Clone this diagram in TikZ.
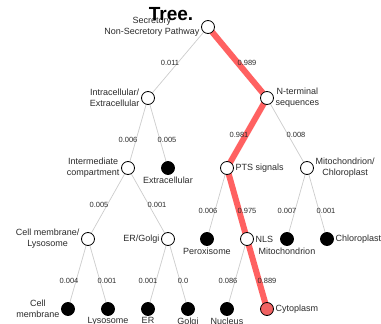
\documentclass[tikz,border=0pt]{standalone}
\usepackage{fontspec}
\setmainfont{Liberation Sans}
\usetikzlibrary{positioning,backgrounds}
\definecolor{pathred}{HTML}{FF6161}
\definecolor{leafred}{HTML}{F06262}
\definecolor{linkgray}{HTML}{CCCCCC}
\definecolor{textgray}{HTML}{2A2A2A}

\begin{document}
\begin{tikzpicture}[x=1pt, y=-1pt,
  inner/.style={circle, draw=black, fill=white, line width=0.8pt, minimum size=13pt, inner sep=0pt},
  leaf/.style={inner, fill=black},
  sink/.style={leaf, label distance=3.5pt},
  hit/.style={inner, fill=leafred},
  lbl/.style={font=\fontsize{9}{11}\selectfont, text=textgray, align=center, inner sep=1.5pt},
  prob/.style={font=\fontsize{7.5}{9}\selectfont, text=textgray, inner sep=0pt},
  link/.style={draw=linkgray, line width=0.7pt},
  best/.style={draw=pathred, line width=6pt}]
  \clip (0,0) rectangle (381,324);
  % inner nodes and leaves
  \node[inner, label={[lbl]left:{Secretory\\Non-Secretory Pathway}}] (root) at (208,27) {};
  \node[inner, label={[lbl]left:{Intracellular/\\Extracellular}}] (intra) at (148,98) {};
  \node[inner, label={[lbl]right:{N-terminal\\sequences}}] (nterm) at (267,98) {};
  \node[inner, label={[lbl]left:{Intermediate\\compartment}}] (interm) at (128,168) {};
  \node[sink, label={[lbl]below:Extracellular}] (extra) at (168,168) {};
  \node[inner, label={[lbl]right:PTS signals}] (pts) at (227,168) {};
  \node[inner, label={[lbl]right:{Mitochondrion/\\Chloroplast}}] (mitochl) at (307,168) {};
  \node[inner, label={[lbl]left:{Cell membrane/\\Lysosome}}] (memlyso) at (88,239) {};
  \node[inner, label={[lbl]left:ER/Golgi}] (ergolgi) at (168,239) {};
  \node[sink, label={[lbl]below:Peroxisome}] (perox) at (207,239) {};
  \node[inner, label={[lbl]right:NLS}] (nls) at (247,239) {};
  \node[sink, label={[lbl]below:Mitochondrion}] (mito) at (287,239) {};
  \node[leaf, label={[lbl]right:Chloroplast}] (chloro) at (327,239) {};
  \node[leaf, label={[lbl]left:{Cell\\membrane}}] (cellmem) at (68,309) {};
  \node[sink, label={[lbl]below:Lysosome}] (lyso) at (108,309) {};
  \node[sink, label={[lbl]below:ER}] (er) at (148,309) {};
  \node[sink, label={[lbl]below:Golgi}] (golgi) at (188,309) {};
  \node[sink, label={[lbl]below:Nucleus}] (nucleus) at (227,309) {};
  \node[hit, label={[lbl]right:Cytoplasm}] (cyto) at (267,309) {};
  % edges: parent/child/style/probability/label position
  \newcommand{\edgelist}{root/intra/link/0.011/170/63, root/nterm/best/0.989/247/63,
    intra/interm/link/0.006/128/140, intra/extra/link/0.005/167/140,
    nterm/pts/best/0.981/239/135, nterm/mitochl/link/0.008/296/135,
    interm/memlyso/link/0.005/99/205, interm/ergolgi/link/0.001/157/205,
    pts/perox/link/0.006/208/211, pts/nls/best/0.975/247/211,
    mitochl/mito/link/0.007/287/211, mitochl/chloro/link/0.001/326/211,
    memlyso/cellmem/link/0.004/69/281, memlyso/lyso/link/0.001/107/281,
    ergolgi/er/link/0.001/148/281, ergolgi/golgi/link/0.0/183/281,
    nls/nucleus/link/0.086/228/281, nls/cyto/best/0.889/267/281}
  \begin{pgfonlayer}{background}
    \foreach \a/\b/\s/\p/\x/\y in \edgelist {
        \draw[\s] (\a.center) -- (\b.center);
    }
  \end{pgfonlayer}
  \foreach \a/\b/\s/\p/\x/\y in \edgelist {
      \node[prob] (p-\b) at (\x,\y) {\p};
  }
  \node[font=\bfseries\fontsize{19}{21}\selectfont] (title) at (171,14) {Tree.};
\end{tikzpicture}
\end{document}
